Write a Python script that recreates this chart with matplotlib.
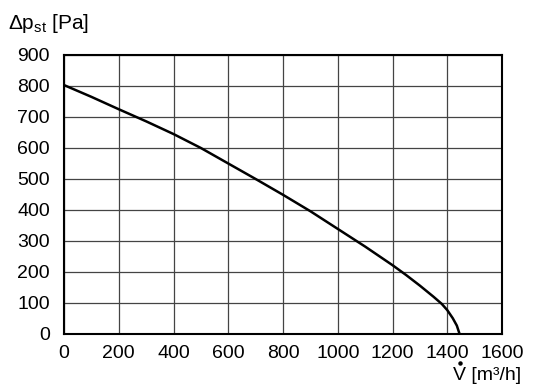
import matplotlib
matplotlib.use('Agg')
import matplotlib.pyplot as plt
from matplotlib import font_manager
from matplotlib.lines import Line2D

flow = [0, 100, 200, 300, 400, 500, 600, 700, 800, 900, 1000, 1100, 1200,
        1250, 1300, 1350, 1380, 1400, 1420, 1435, 1445]
dp = [803, 765, 725, 686, 645, 600, 550, 500, 449, 396, 339, 282, 222,
      190, 156, 120, 97, 77, 51, 27, 0]

xticks = [0, 200, 400, 600, 800, 1000, 1200, 1400, 1600]
yticks = [0, 100, 200, 300, 400, 500, 600, 700, 800, 900]

names = [f.name for f in font_manager.fontManager.ttflist]
fam = 'Liberation Sans Narrow' if 'Liberation Sans Narrow' in names else 'Liberation Sans'
plt.rcParams['font.family'] = [fam, 'DejaVu Sans']
plt.rcParams['mathtext.fontset'] = 'custom'
plt.rcParams['mathtext.rm'] = fam
plt.rcParams['mathtext.it'] = fam

W, H = 536, 390
fig = plt.figure(facecolor='white', figsize=(W / 100, H / 100), dpi=100)
ax = fig.add_axes([0.1194, 0.1436, 0.8172, 0.7154])

ax.plot(flow, dp, color='black', linewidth=1.8, solid_capstyle='butt')

ax.set_xlim(0, 1600)
ax.set_ylim(0, 900)
ax.set_xticks(xticks)
ax.set_yticks(yticks)
ax.tick_params(length=0, labelsize=14)
ax.tick_params(axis='y', pad=10)
ax.tick_params(axis='x', pad=8)
ax.grid(True, color='#444444', linewidth=0.9)
ax.set_axisbelow(True)
for s in ax.spines.values():
    s.set_linewidth(1.5)
    s.set_color('black')

fig.text(0.015, 0.926, r'$\Delta$p$_{\mathrm{st}}$ [Pa]', fontsize=15, va='baseline', ha='left')

# x-achsentitel, punkt ueber dem V von hand
xl = fig.text(0.972, 0.026, 'V [m\u00b3/h]', fontsize=14, va='baseline', ha='right')
fig.canvas.draw()
r = fig.canvas.get_renderer()
bb = xl.get_window_extent(r)
tmp = fig.text(0, 0, 'V', fontsize=14)
wv = tmp.get_window_extent(r).width
tmp.remove()
dot_x = (bb.x0 + wv / 2 + 0.5) / W
dot_y = (0.026 * H + 14 * 100 / 72 * 0.69 + 3) / H
fig.add_artist(Line2D([dot_x], [dot_y], marker='o', markersize=2.2, color='black',
                      transform=fig.transFigure))

fig.savefig('out.png', dpi=100, facecolor='white')
